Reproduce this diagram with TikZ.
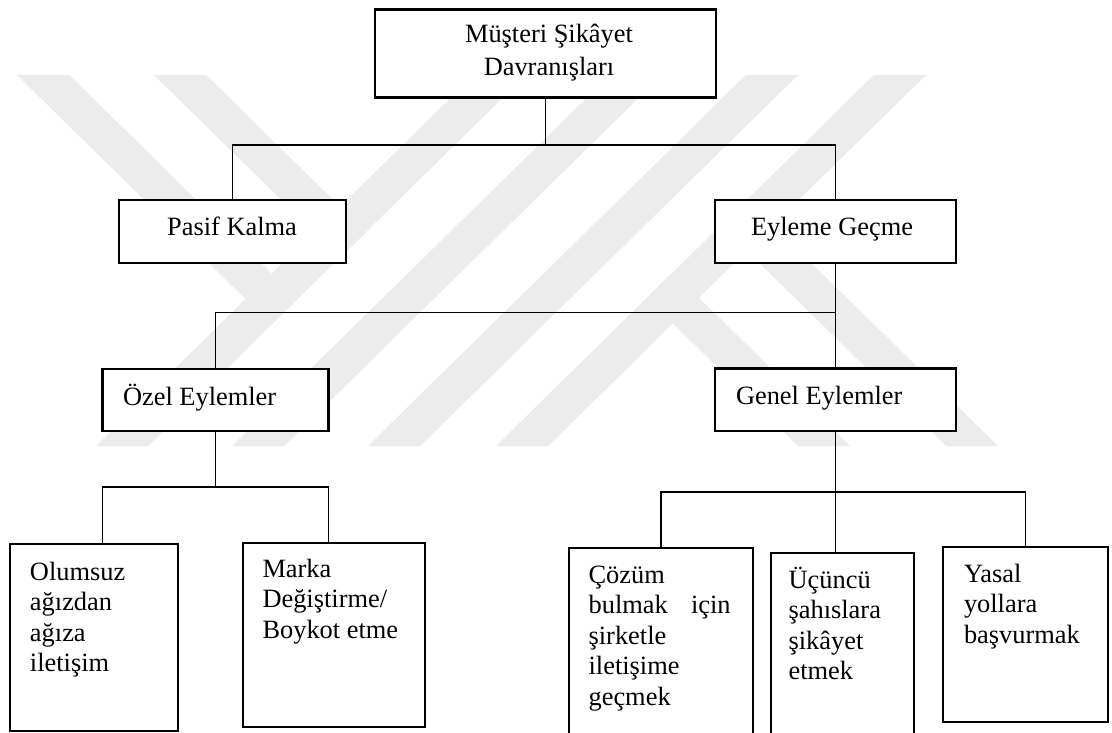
\documentclass[tikz,border=0pt]{standalone}
\usepackage{fontspec}
\setmainfont{Liberation Serif}
\usetikzlibrary{calc}
\definecolor{wmark}{RGB}{236,236,236}
\tikzset{
  chartbox/.style={draw=black, line width=2.2pt, fill=white, rectangle, inner sep=0pt, outer sep=0pt, anchor=north west},
  wire/.style={draw=black, line width=1.8pt},
  txt/.style={inner sep=0pt, outer sep=0pt, font=\fontsize{26.4}{30.5}\selectfont},
}
\begin{document}
\begin{tikzpicture}[x=1pt, y=-1pt]
  \useasboundingbox (0,0) rectangle (1112,733);
  \fill[white] (0,0) rectangle (1112,733);

  % background logo made of diagonal stripes
  \begin{scope}[wmark]
    % rising stripes
    \fill (96,446) -- (148,446) -- (526,75) -- (474,75) -- cycle;
    \fill (232,446) -- (284,446) -- (662,75) -- (610,75) -- cycle;
    \fill (368,446) -- (420,446) -- (798,75) -- (746,75) -- cycle;
    \fill (496,446) -- (548,446) -- (926,75) -- (874,75) -- cycle;
    % upper-left arms joining the first rising stripe
    \fill (17,75) -- (69,75) -- (297.7,299.2) -- (271.7,324.7) -- cycle;
    \fill (154,75) -- (206,75) -- (366.2,232.1) -- (340.2,257.5) -- cycle;
    % lower-right arms joining the last rising stripe
    \fill (798,446) -- (850,446) -- (672.9,272.3) -- (646.9,297.8) -- cycle;
    \fill (946,446) -- (998,446) -- (746.8,199.7) -- (720.8,225.2) -- cycle;
  \end{scope}

  % boxes
  \node[chartbox, minimum width=341pt, minimum height=88pt]  (top)     at (375,9.5)   {};
  \node[chartbox, minimum width=227pt, minimum height=63pt]  (pasif)   at (119,200)   {};
  \node[chartbox, minimum width=241pt, minimum height=63pt]  (eyleme)  at (715,200)   {};
  \node[chartbox, minimum width=226pt, minimum height=62pt]  (ozel)    at (102.5,369) {};
  \node[chartbox, minimum width=241pt, minimum height=62.5pt] (genel)  at (715,368.5) {};
  \node[chartbox, minimum width=168.4pt, minimum height=187pt] (olumsuz) at (9.6,544) {};
  \node[chartbox, minimum width=182pt, minimum height=184pt] (marka)   at (243,543)   {};
  \node[chartbox, minimum width=184pt, minimum height=212pt] (cozum)   at (569,548)   {};
  \node[chartbox, minimum width=143pt, minimum height=207pt] (ucuncu)  at (771,553)   {};
  \node[chartbox, minimum width=165pt, minimum height=175pt] (yasal)   at (943,547)   {};

  % junction rows
  \coordinate (r1) at (0,145);
  \coordinate (r2) at (0,312.5);
  \coordinate (r3) at (0,487);
  \coordinate (r4) at (0,492);

  % connectors
  \draw[wire] (top.south) -- (top.south |- r1);
  \draw[wire] (pasif.north) -- (pasif.north |- r1) -- (eyleme.north |- r1) -- (eyleme.north);
  \draw[wire] (eyleme.south) -- (genel.north);
  \draw[wire] (ozel.north) -- (ozel.north |- r2) -- (eyleme.south |- r2);
  \draw[wire] (ozel.south) -- (ozel.south |- r3);
  \draw[wire] (olumsuz.north -| ozel.west) -- (ozel.west |- r3) -- (ozel.east |- r3) -- (marka.north -| ozel.east);
  \draw[wire] (genel.south) -- (ucuncu.north -| genel.south);
  \draw[wire] (cozum.north) -- (cozum.north |- r4) -- (yasal.north |- r4) -- (yasal.north);

  % labels
  \node[txt, anchor=base] (top-t) at (549,43)
    {\parbox[t]{330pt}{\fontsize{26.4}{33}\selectfont\centering Müşteri Şikâyet\\Davranışları}};
  \node[txt, anchor=base] (pasif-t) at (232,236) {Pasif Kalma};
  \node[txt, anchor=base] (eyleme-t) at (832,236) {Eyleme Geçme};
  \node[txt, anchor=base west] (ozel-t) at (123,405) {Özel Eylemler};
  \node[txt, anchor=base west] (genel-t) at (736,404) {Genel Eylemler};
  \node[txt, anchor=base west] (olumsuz-t) at (30,580)
    {\parbox[t]{140pt}{\raggedright Olumsuz\\ağızdan\\ağıza\\iletişim}};
  \node[txt, anchor=base west] (marka-t) at (262.5,577)
    {\parbox[t]{160pt}{\raggedright Marka\\Değiştirme/\\Boykot etme}};
  \node[txt, anchor=base west] (cozum-t) at (588.6,583)
    {\parbox[t]{150pt}{\raggedright Çözüm\\\makebox[142pt][l]{bulmak\hfill için}\\şirketle\\iletişime\\geçmek}};
  \node[txt, anchor=base west] (ucuncu-t) at (788.6,588)
    {\parbox[t]{125pt}{\raggedright Üçüncü\\şahıslara\\şikâyet\\etmek}};
  \node[txt, anchor=base west] (yasal-t) at (964,582)
    {\parbox[t]{140pt}{\raggedright Yasal\\yollara\\başvurmak}};
\end{tikzpicture}
\end{document}
